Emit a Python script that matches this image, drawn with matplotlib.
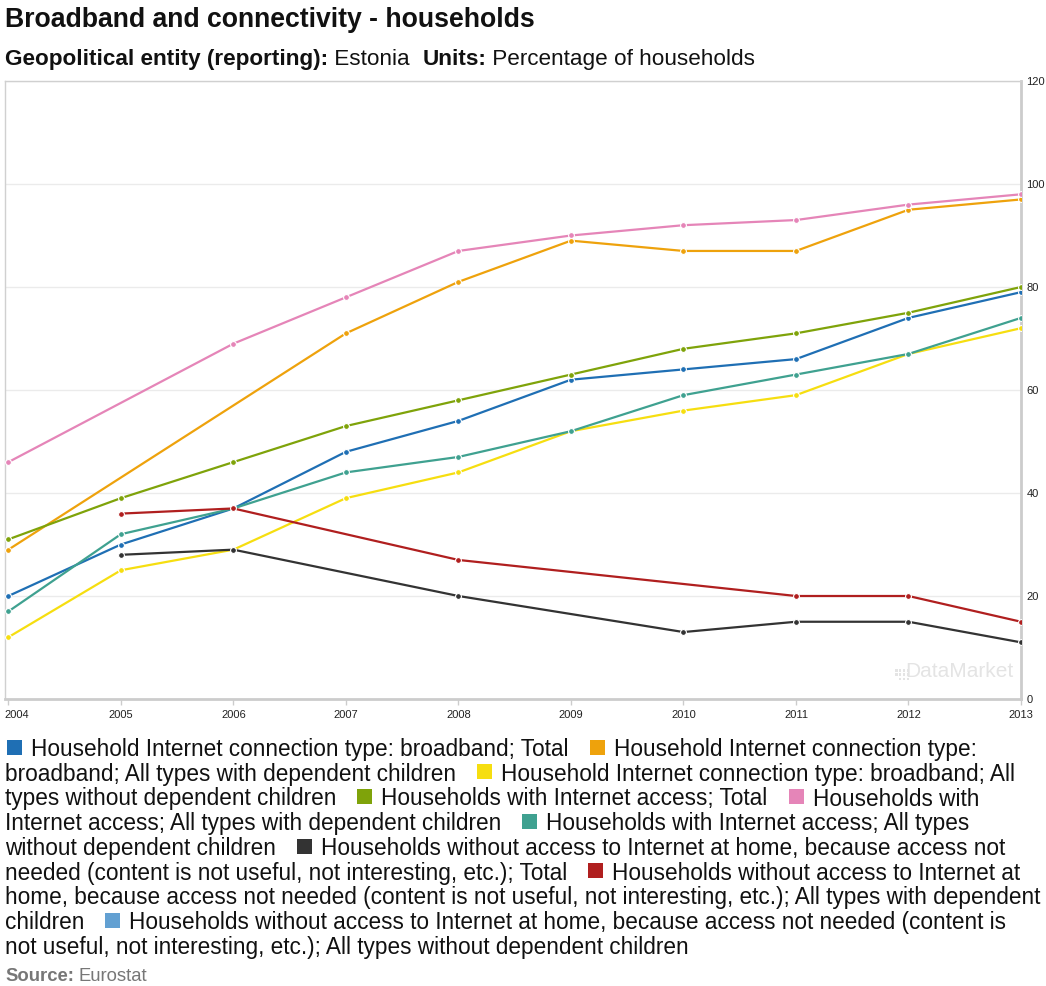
import numpy as np
import matplotlib
matplotlib.use("Agg")
import matplotlib.pyplot as plt
from matplotlib.patches import Rectangle
import matplotlib.transforms as mtrans

plt.rcParams['font.family'] = ['Liberation Sans', 'DejaVu Sans']

# ---- data -------------------------------------------------------------
years = [2004, 2005, 2006, 2007, 2008, 2009, 2010, 2011, 2012, 2013]
nan = np.nan

broadband_total = [20, 30, 37, 48, 54, 62, 64, 66, 74, 79]
broadband_with_children = [29, nan, nan, 71, 81, 89, 87, 87, 95, 97]
broadband_without_children = [12, 25, 29, 39, 44, 52, 56, 59, 67, 72]
access_total = [31, 39, 46, 53, 58, 63, 68, 71, 75, 80]
access_with_children = [46, nan, 69, 78, 87, 90, 92, 93, 96, 98]
access_without_children = [17, 32, 37, 44, 47, 52, 59, 63, 67, 74]
not_needed_total = [nan, 28, 29, nan, 20, nan, 13, 15, 15, 11]
not_needed_with_children = [nan, 36, 37, nan, 27, nan, nan, 20, 20, 15]
not_needed_without_children = [nan] * 10

series_labels = [
    "Household Internet connection type: broadband; Total",
    "Household Internet connection type: broadband; All types with dependent children",
    "Household Internet connection type: broadband; All types without dependent children",
    "Households with Internet access; Total",
    "Households with Internet access; All types with dependent children",
    "Households with Internet access; All types without dependent children",
    "Households without access to Internet at home, because access not needed (content is not useful, not interesting, etc.); Total",
    "Households without access to Internet at home, because access not needed (content is not useful, not interesting, etc.); All types with dependent children",
    "Households without access to Internet at home, because access not needed (content is not useful, not interesting, etc.); All types without dependent children",
]
series_values = [
    broadband_total, broadband_with_children, broadband_without_children,
    access_total, access_with_children, access_without_children,
    not_needed_total, not_needed_with_children, not_needed_without_children,
]
series_colors = ["#1f6fb4", "#eea20c", "#f6de10", "#7fa30a", "#e585b8",
                 "#3fa190", "#333333", "#b01f1f", "#62a0d2"]

y_ticks = [0, 20, 40, 60, 80, 100, 120]

# ---- figure -----------------------------------------------------------
W, H = 1046, 987
fig = plt.figure(figsize=(W / 100, H / 100), dpi=100)

def fx(px):
    return px / W

def fy(py):
    return 1 - py / H

left, right, top, bottom = 5, 1021, 82, 700
ax = fig.add_axes([fx(left), fy(bottom), fx(right - left), (bottom - top) / H])

for vals, color in zip(series_values, series_colors):
    x = np.array(years, dtype=float)
    y = np.array(vals, dtype=float)
    ok = ~np.isnan(y)
    if ok.sum() == 0:
        continue
    ax.plot(x[ok], y[ok], color=color, lw=1.6, marker="o", ms=4.2,
            mfc=color, mec="white", mew=0.8, solid_joinstyle="round",
            zorder=3)

ax.set_xlim(2003.97, 2013.0)
ax.set_ylim(0, 120)
ax.set_yticks(y_ticks)
ax.set_xticks(years)
ax.set_xticklabels([str(y) for y in years])
ax.yaxis.tick_right()
ax.grid(axis="y", color="#ebebeb", lw=1)
ax.grid(axis="x", visible=False)
ax.set_axisbelow(True)
for side in ("top", "left"):
    ax.spines[side].set_color("#d0d0d0")
    ax.spines[side].set_linewidth(1)
for side in ("right", "bottom"):
    ax.spines[side].set_color("#cccccc")
    ax.spines[side].set_linewidth(2)
ax.tick_params(axis="y", length=0, pad=4, labelsize=8, labelcolor="#222222")
ax.tick_params(axis="x", length=4, width=1, color="#cccccc", pad=3,
               labelsize=8, labelcolor="#222222")
for lbl in ax.get_yticklabels():
    lbl.set_verticalalignment("center")
first = ax.get_xticklabels()[0]
first.set_horizontalalignment("left")
first.set_transform(first.get_transform() +
                    mtrans.ScaledTranslation(-4 / 100, 0, fig.dpi_scale_trans))

# watermark
ax.text(0.993, 0.03, "DataMarket", transform=ax.transAxes, ha="right",
        va="bottom", fontsize=15, color="#e4e4e4", zorder=1)
for i in range(4):
    for j in range(3):
        if i + j >= 1:
            ax.add_patch(Rectangle((0.876 + i * 0.0038, 0.03 + j * 0.0072),
                                   0.0025, 0.0045, transform=ax.transAxes,
                                   color="#e4e4e4", zorder=1, lw=0))

# ---- titles -----------------------------------------------------------
fig.text(fx(5), fy(27), "Broadband and connectivity - households",
         fontsize=19.2, fontweight="bold", va="baseline", ha="left",
         color="#111111")

renderer = fig.canvas.get_renderer()

def width_of(s, **kw):
    t = fig.text(0, 0, s, **kw)
    w = t.get_window_extent(renderer).width
    t.remove()
    return w

sub_parts = [("Geopolitical entity (reporting):", "bold"), (" Estonia  ", "normal"),
             ("Units:", "bold"), (" Percentage of households", "normal")]
xpos = 5
for txt, wt in sub_parts:
    kw = dict(fontsize=16.2, fontweight=wt, color="#111111")
    fig.text(fx(xpos), fy(65), txt, va="baseline", ha="left", **kw)
    xpos += width_of(txt, **kw)

# ---- legend (flowing text with colour swatches) -----------------------
leg_kw = dict(fontsize=16.3, color="#111111")
line_h = 24.75
y0 = 748          # vertical centre of the first legend row
base_off = 8      # baseline sits below the row centre
max_x = 1044
sq = 15
x_left = 5
cur_x = x_left
line = 0

def draw_seg(x, ln, text):
    fig.text(fx(x), fy(y0 + ln * line_h + base_off), text, va="baseline",
             ha="left", **leg_kw)

for color, label in zip(series_colors, series_labels):
    if cur_x + sq > max_x:
        line += 1
        cur_x = x_left
    yc = y0 + line * line_h
    fig.add_artist(Rectangle((fx(cur_x + 2), fy(yc + sq / 2)), sq / W, sq / H,
                             transform=fig.transFigure, color=color, lw=0))
    seg_x = cur_x + sq + 11
    seg = ""
    for word in label.split(" "):
        cand = word if not seg else seg + " " + word
        if seg_x + width_of(cand, **leg_kw) > max_x:
            draw_seg(seg_x, line, seg)
            line += 1
            seg_x = x_left
            seg = word
        else:
            seg = cand
    draw_seg(seg_x, line, seg)
    cur_x = seg_x + width_of(seg, **leg_kw) + 19

# ---- source -----------------------------------------------------------
src_kw_b = dict(fontsize=13.3, fontweight="bold", color="#777777")
src_kw = dict(fontsize=13.3, color="#777777")
fig.text(fx(5), fy(981), "Source:", va="baseline", ha="left", **src_kw_b)
fig.text(fx(5 + width_of("Source: ", **src_kw_b)), fy(981), "Eurostat",
         va="baseline", ha="left", **src_kw)

fig.savefig("out.png", dpi=100)
